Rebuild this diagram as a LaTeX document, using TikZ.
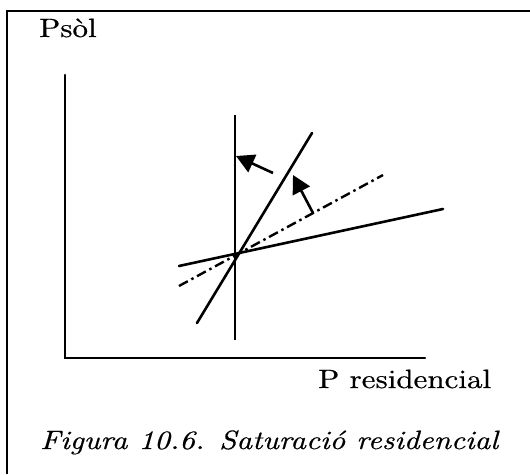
\documentclass[tikz,border=0pt]{standalone}
\usepackage{fontspec}
\setmainfont{lmroman10-regular.otf}[FakeBold=0.5, FakeStretch=1.17, ItalicFont=lmroman10-italic.otf, ItalicFeatures={FakeBold=0.5, FakeStretch=1.16}]
\usetikzlibrary{arrows.meta}
\tikzset{
  lbl/.style={anchor=base west, inner sep=0pt, font=\fontsize{26.5}{30}\selectfont},
  ln/.style={line width=2.6pt, line cap=round},
  dashdot/.style={line width=2.4pt, dash pattern=on 10pt off 4pt on 2.5pt off 4pt},
  arr/.style={line width=2.6pt, -{Triangle[length=18pt,width=19pt]}},
}
\begin{document}
\begin{tikzpicture}[x=1pt,y=-1pt]
\useasboundingbox (0,0) rectangle (530,474);
% frame
\draw[line width=2pt] (7,474) -- (7,11) -- (530,11);
% axes
\coordinate (ytop) at (65,75);
\coordinate (orig) at (65,358);
\coordinate (xend) at (425,358);
\draw[ln] (ytop) -- (orig) -- (xend);
% labels
\node[lbl] (psol) at (39,37) {Psòl};
\node[lbl] (pres) at (318,388) {P residencial};
\node[lbl] (cap) at (40,449) {\itshape Figura 10.6. Saturació residencial};
% lines
\coordinate (vt) at (235,115);
\coordinate (vb) at (235,340);
\coordinate (st1) at (197,323);
\coordinate (st2) at (312,133);
\coordinate (sh1) at (179,266);
\coordinate (sh2) at (443,209);
\coordinate (dd1) at (179,286);
\coordinate (dd2) at (383,175);
\draw[line width=2.2pt] (vt) -- (vb);
\draw[ln] (st1) -- (st2);
\draw[ln] (sh1) -- (sh2);
\draw[dashdot] (dd1) -- (dd2);
% arrows
\coordinate (a1s) at (273,173);
\coordinate (a1t) at (236,156);
\coordinate (a2s) at (313,213);
\coordinate (a2t) at (293,175);
\draw[arr] (a1s) -- (a1t);
\draw[arr] (a2s) -- (a2t);
\end{tikzpicture}
\end{document}
